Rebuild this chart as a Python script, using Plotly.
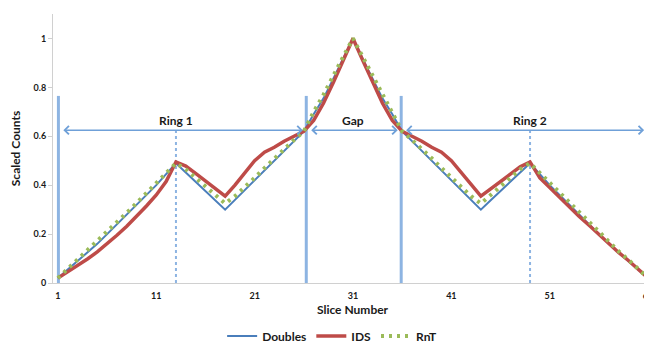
import plotly.graph_objects as go

slices = list(range(1, 62))

doubles = [0.02, 0.055, 0.09, 0.125, 0.16, 0.20, 0.24, 0.28, 0.32, 0.36, 0.40, 0.445, 0.49,
           0.452, 0.414, 0.376, 0.338, 0.30,
           0.34, 0.38, 0.42, 0.46, 0.50, 0.54, 0.58, 0.62,
           0.69, 0.755, 0.835, 0.915, 1.0, 0.915, 0.835, 0.755, 0.69,
           0.62, 0.58, 0.54, 0.50, 0.46, 0.42, 0.38, 0.34, 0.30,
           0.338, 0.376, 0.414, 0.452, 0.49,
           0.445, 0.40, 0.36, 0.32, 0.28, 0.24, 0.20, 0.16, 0.125, 0.09, 0.055, 0.02]

ids = [0.02, 0.045, 0.07, 0.098, 0.127, 0.16, 0.195, 0.232, 0.272, 0.315, 0.36, 0.415, 0.495,
       0.478, 0.448, 0.416, 0.385, 0.355,
       0.40, 0.45, 0.50, 0.535, 0.555, 0.58, 0.60, 0.62,
       0.665, 0.735, 0.82, 0.91, 1.0, 0.91, 0.82, 0.735, 0.665,
       0.62, 0.60, 0.58, 0.555, 0.535, 0.50, 0.45, 0.40, 0.355,
       0.385, 0.415, 0.448, 0.475, 0.495,
       0.43, 0.39, 0.35, 0.31, 0.272, 0.236, 0.198, 0.16, 0.125, 0.092, 0.055, 0.02]

rnt = [0.02, 0.058, 0.095, 0.13, 0.168, 0.207, 0.247, 0.287, 0.327, 0.367, 0.407, 0.45, 0.49,
       0.465, 0.43, 0.395, 0.36, 0.325,
       0.355, 0.39, 0.43, 0.47, 0.51, 0.55, 0.585, 0.62,
       0.70, 0.77, 0.85, 0.925, 1.0, 0.925, 0.85, 0.77, 0.70,
       0.62, 0.585, 0.55, 0.51, 0.47, 0.43, 0.39, 0.355, 0.325,
       0.36, 0.395, 0.43, 0.465, 0.49,
       0.45, 0.407, 0.367, 0.327, 0.287, 0.247, 0.207, 0.168, 0.13, 0.095, 0.058, 0.02]

x_ticks = [1, 11, 21, 31, 41, 51, 61]
y_ticks = [0, 0.2, 0.4, 0.6, 0.8, 1]
y_tick_labels = ["0", "0.2", "0.4", "0.6", "0.8", "1"]

region_labels = ["Ring 1", "Gap", "Ring 2"]
region_bounds = [1.05, 26.25, 35.9, 60.95]
label_slices = [13, 31, 49]
peak_slices = [13, 49]
arrow_level = 0.625
bound_top = 0.765

FONT = "Lato"
GUIDE = "#8DB4E2"
ARROW = "#6FA0D8"
TXT = "#1a1a1a"

fig = go.Figure()
fig.add_trace(go.Scatter(x=slices, y=doubles, name="Doubles", mode="lines",
                         line=dict(color="#4A7EBB", width=2)))
fig.add_trace(go.Scatter(x=slices, y=ids, name="IDS", mode="lines",
                         line=dict(color="#BE4B48", width=3.5)))
fig.add_trace(go.Scatter(x=slices, y=rnt, name="RnT", mode="lines",
                         line=dict(color="#9BBB59", width=4, dash="3px,5px")))

shapes = []
for b in region_bounds:
    shapes.append(dict(type="line", xref="x", yref="y", x0=b, x1=b, y0=0, y1=bound_top,
                       line=dict(color=GUIDE, width=3), layer="below"))
for p in peak_slices:
    shapes.append(dict(type="line", xref="x", yref="y", x0=p, x1=p, y0=0, y1=arrow_level,
                       line=dict(color=GUIDE, width=2, dash="dot"), layer="below"))

annotations = []
for i, lab in enumerate(region_labels):
    a, b = region_bounds[i], region_bounds[i + 1]
    annotations.append(dict(x=b - 0.35, y=arrow_level, ax=a + 0.35, ay=arrow_level,
                            xref="x", yref="y", axref="x", ayref="y", text="",
                            showarrow=True, arrowside="end+start", arrowhead=4,
                            arrowsize=1.1, arrowwidth=1.5, arrowcolor=ARROW))
    annotations.append(dict(x=label_slices[i], y=arrow_level, xref="x", yref="y", text=lab,
                            showarrow=False, yanchor="bottom", yshift=0,
                            font=dict(family=FONT, size=12, color=TXT, weight="bold")))

# page body adds an 8px margin, so the figure is 8px smaller and offset accordingly
fig.update_layout(
    width=644, height=337,
    margin=dict(l=45, r=0, t=6, b=62, autoexpand=False),
    plot_bgcolor="white", paper_bgcolor="white",
    shapes=shapes, annotations=annotations,
    showlegend=True,
    legend=dict(orientation="h", x=0.466, xanchor="center", y=-0.197, yanchor="middle",
                font=dict(family=FONT, size=12, color=TXT, weight="bold"), itemwidth=30,
                traceorder="normal"),
    xaxis=dict(range=[0.5, 61.4], tickvals=x_ticks, ticktext=[str(t) for t in x_ticks],
               automargin=False, ticklabelstandoff=4, ticklabeloverflow="allow",
               showgrid=False, zeroline=False, showline=True, linecolor="#D0D0D0",
               linewidth=1, ticks="",
               tickfont=dict(family=FONT, size=9, color=TXT, weight="bold"),
               title=dict(text="Slice Number", standoff=5,
                          font=dict(family=FONT, size=12, color=TXT, weight="bold"))),
    yaxis=dict(range=[0, 1.1], tickvals=y_ticks, ticktext=y_tick_labels,
               automargin=False,
               showgrid=False, zeroline=False, showline=True, linecolor="#D0D0D0",
               linewidth=1, ticks="outside", ticklen=4, tickcolor="#D0D0D0",
               tickfont=dict(family=FONT, size=9, color=TXT, weight="bold"),
               title=dict(text="Scaled Counts", standoff=20,
                          font=dict(family=FONT, size=12, color=TXT, weight="bold"))),
)

fig.write_html("out.html")
